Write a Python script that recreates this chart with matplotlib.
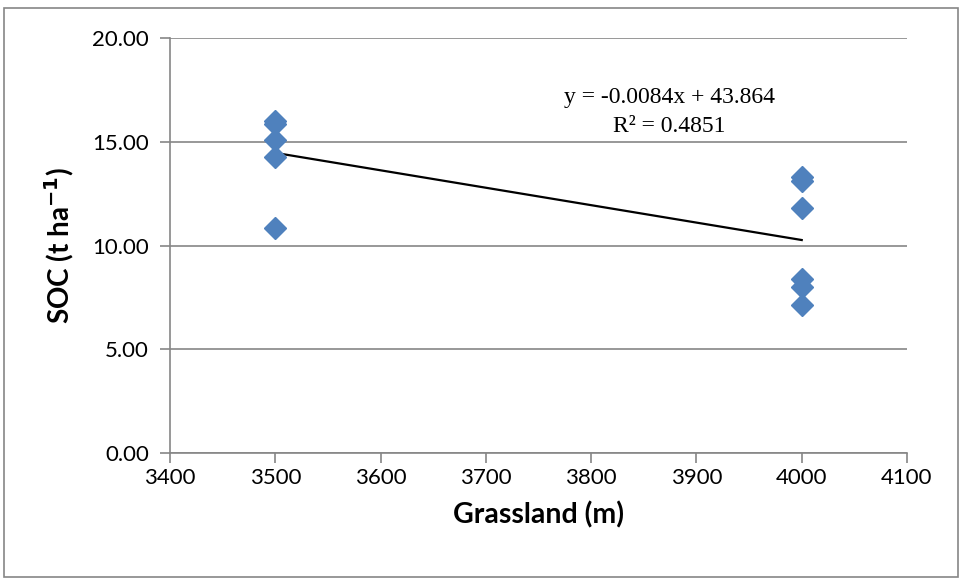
import numpy as np
import matplotlib.pyplot as plt
from matplotlib.patches import Rectangle

# SOC readings at the two grassland elevations
elev_3500 = [3500, 3500, 3500, 3500, 3500]
soc_3500 = [16.0, 15.85, 15.1, 14.25, 10.85]
elev_4000 = [4000, 4000, 4000, 4000, 4000, 4000]
soc_4000 = [13.3, 13.1, 11.8, 8.4, 8.0, 7.15]

slope = -0.0084
intercept = 43.864
r2 = 0.4851
trend_x = [3500, 4000]

xticks = [3400, 3500, 3600, 3700, 3800, 3900, 4000, 4100]
yticks = [0, 5, 10, 15, 20]

plt.rcParams['font.family'] = ['Lato', 'DejaVu Sans']

fig = plt.figure(figsize=(9.63, 5.85), dpi=100)
ax = fig.add_axes([170/963, 1-453/585, (907-170)/963, (453-38)/585])

x = np.array(elev_3500 + elev_4000)
y = np.array(soc_3500 + soc_4000)
tx = np.array(trend_x)
ax.plot(tx, slope*tx + intercept, color='black', lw=1.6, zorder=2)
ax.plot(x, y, 'D', color='#4F81BD', ms=11.5, mec='#4F81BD', zorder=3)

ax.set_xlim(3400, 4100)
ax.set_ylim(0, 20)
ax.set_xticks(xticks)
ax.set_yticks(yticks)
ax.set_yticklabels(['%.2f' % v for v in yticks])
ax.yaxis.grid(True, color='#868686', lw=1.2)
ax.set_axisbelow(True)
for s in ['top', 'right']:
    ax.spines[s].set_visible(False)
for s in ['left', 'bottom']:
    ax.spines[s].set_color('#868686')
    ax.spines[s].set_linewidth(1.2)
ax.tick_params(axis='both', colors='#868686', labelcolor='black', labelsize=16,
               direction='out', length=7, width=1.2)
ax.tick_params(axis='y', pad=8)

ax.set_xlabel('Grassland (m)', fontsize=20.5, fontweight='bold', labelpad=10)
ax.set_ylabel('SOC (t ha$^{\\mathbf{-1}}$)', fontsize=20, fontweight='bold', labelpad=12)

eq_x = (669 - 170) / (907 - 170)
ax.text(eq_x, (453 - 97) / 415, 'y = %.4fx + %.3f' % (slope, intercept),
        transform=ax.transAxes, ha='center', va='center', fontsize=17,
        family='Liberation Serif')
ax.text(eq_x, (453 - 127) / 415, 'R² = %.4f' % r2,
        transform=ax.transAxes, ha='center', va='center', fontsize=17,
        family='Liberation Serif')

fig.patches.append(Rectangle((4/963, 8/585), 954/963, 569/585, transform=fig.transFigure,
                             fill=False, edgecolor='#868686', lw=1.2))

fig.savefig('out.png', dpi=100)
